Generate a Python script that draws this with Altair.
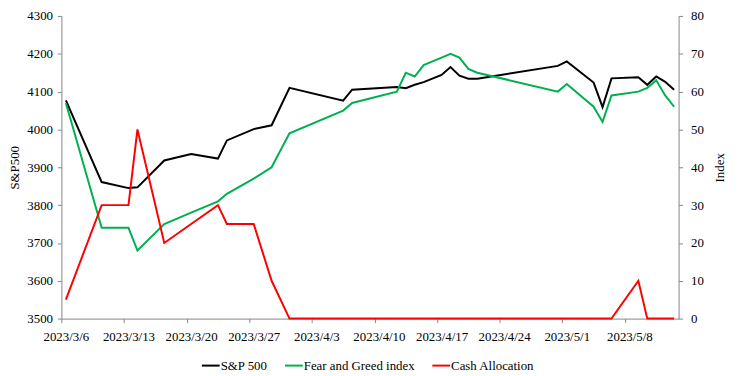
import altair as alt
import pandas as pd

# ---- data ----
dates = ["2023/3/6", "2023/3/10", "2023/3/13", "2023/3/14", "2023/3/17", "2023/3/20",
         "2023/3/23", "2023/3/24", "2023/3/27", "2023/3/29", "2023/3/31", "2023/4/6",
         "2023/4/7", "2023/4/12", "2023/4/13", "2023/4/14", "2023/4/15", "2023/4/17",
         "2023/4/18", "2023/4/19", "2023/4/20", "2023/4/21", "2023/4/30", "2023/5/1",
         "2023/5/4", "2023/5/5", "2023/5/6", "2023/5/9", "2023/5/10", "2023/5/11",
         "2023/5/12", "2023/5/13"]
sp500 = [4077, 3861, 3845, 3847, 3918, 3935, 3923, 3971, 4001, 4011, 4110, 4076,
         4105, 4112, 4109, 4118, 4125, 4144, 4165, 4142, 4134, 4134, 4168, 4180,
         4124, 4059, 4135, 4138, 4118, 4140, 4126, 4105]
fear_greed = [57, 24, 24, 18, 25, 28, 31, 33, 37, 40, 49, 55,
              57, 60, 65, 64, 67, 69, 70, 69, 66, 65, 60, 62,
              56, 52, 59, 60, 61, 63, 59, 56]
cash = [5, 30, 30, 50, 20, 25, 30, 25, 25, 10, 0, 0,
        0, 0, 0, 0, 0, 0, 0, 0, 0, 0, 0, 0,
        0, 0, 0, 10, 0, 0, 0, 0]
series_names = ["S&P 500", "Fear and Greed index", "Cash Allocation"]
series_colors = ["#000000", "#00B050", "#FF0000"]
tick_dates = ["2023/3/6", "2023/3/13", "2023/3/20", "2023/3/27", "2023/4/3",
              "2023/4/10", "2023/4/17", "2023/4/24", "2023/5/1", "2023/5/8"]
left_ticks = [3500, 3600, 3700, 3800, 3900, 4000, 4100, 4200, 4300]
right_ticks = [0, 10, 20, 30, 40, 50, 60, 70, 80]

# ---- build long table ----
stamp = (pd.to_datetime(dates, format="%Y/%m/%d") + pd.Timedelta(hours=12)).strftime("%Y-%m-%dT%H:%M:%SZ")
frames = []
for name, vals in zip(series_names, [sp500, fear_greed, cash]):
    frames.append(pd.DataFrame({"date": list(stamp), "value": vals, "series": name}))
df = pd.concat(frames, ignore_index=True)


def dt(s):
    y, m, d = [int(p) for p in s.split("/")]
    return alt.DateTime(year=y, month=m, date=d, utc=True)


FONT = "Liberation Serif"
W, H = 624, 306
AX = dict(labelFont=FONT, labelFontSize=13, labelColor="#000000",
          titleFont=FONT, titleFontSize=13, titleFontWeight="normal", titleColor="#000000",
          domainColor="#868686", tickColor="#868686", grid=False, tickSize=4)

x_enc = alt.X(
    "date:T",
    scale=alt.Scale(type="utc", domain=[dt("2023/3/6"), dt("2023/5/14")]),
    axis=alt.Axis(values=[dt(t) for t in tick_dates],
                  labelExpr="utcFormat(datum.value, '%Y/%-m/%-d')",
                  labelOffset=4.5, title=None, labelPadding=8,
                  labelOverlap=False, labelFlush=False, **AX),
)

color_enc = alt.Color(
    "series:N",
    scale=alt.Scale(domain=series_names, range=series_colors),
    legend=alt.Legend(orient="none", legendX=141, legendY=343.5, direction="horizontal",
                      title=None, symbolType="stroke", symbolSize=324, symbolStrokeWidth=2,
                      labelFont=FONT, labelFontSize=13, labelColor="#000000", labelOffset=0,
                      columnPadding=13, padding=0, labelLimit=300),
)

left = alt.Chart(df).transform_filter(alt.datum.series == "S&P 500").mark_line(strokeWidth=2).encode(
    x=x_enc,
    y=alt.Y("value:Q",
            scale=alt.Scale(domain=[3500, 4300], nice=False, zero=False),
            axis=alt.Axis(orient="left", values=left_ticks, format="d", title="S&P500",
                          labelPadding=5, titleAngle=270, titleX=-47,
                          titleY=H / 2, titleAlign="center", titleBaseline="middle", **AX)),
    color=color_enc,
)

right = alt.Chart(df).transform_filter(alt.datum.series != "S&P 500").mark_line(strokeWidth=2).encode(
    x=x_enc,
    y=alt.Y("value:Q",
            scale=alt.Scale(domain=[0, 80], nice=False),
            axis=alt.Axis(orient="right", values=right_ticks, format="d", title="Index",
                          labelPadding=8, titleAngle=270, titleX=41,
                          titleY=H / 2, titleAlign="center", titleBaseline="middle", **AX)),
    color=color_enc,
)

chart = alt.layer(left, right).resolve_scale(y="independent", color="shared").properties(
    width=W, height=H, autosize="none",
    padding={"left": 54, "top": 6, "right": 54, "bottom": 58},
    background="white",
).configure_view(stroke=None)

chart.save("out.html", embed_options={"renderer": "svg", "actions": False})
